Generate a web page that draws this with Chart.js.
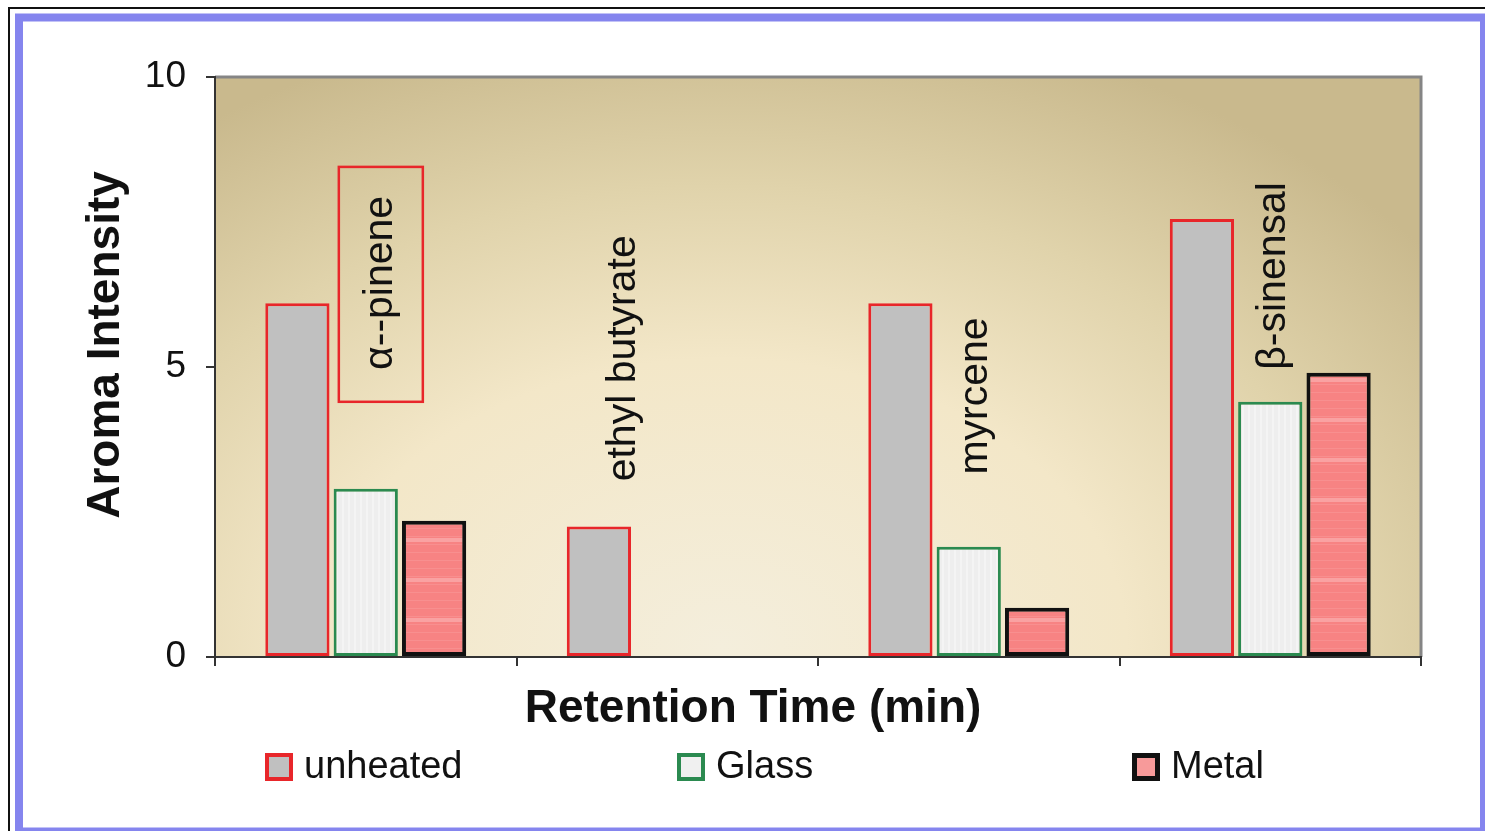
<!DOCTYPE html>
<html>
<head>
<meta charset="utf-8">
<script src="https://cdn.jsdelivr.net/npm/chart.js@4.4.1/dist/chart.umd.min.js"></script>
<style>
  html, body { margin: 0; padding: 0; background: #fff; overflow: hidden; }
  canvas { display: block; }
</style>
</head>
<body>
<canvas id="grafica" width="1485" height="831"></canvas>
<script>
// datos
const categorias = ['α--pinene', 'ethyl butyrate', 'myrcene', 'β-sinensal'];
const unheated = [6.1, 2.25, 6.1, 7.55];
const glass = [2.9, null, 1.9, 4.4];
const metal = [2.35, null, 0.85, 4.9];
const yTicks = [0, 5, 10];

// etiquetas de compuestos (posición en unidades de los ejes)
const etiquetaX = [0.05, -0.146, 0.023, 0.01];
const etiquetaY = [6.45, 5.15, 4.5, 6.57];
const etiquetaCaja = [[4.4, 8.45], null, null, null];

const FUENTE = '"Liberation Sans", Arial, sans-serif';

// patrones de relleno
function patronGlass() {
  const c = document.createElement('canvas');
  c.width = 6; c.height = 6;
  const g = c.getContext('2d');
  g.fillStyle = '#eeeeee';
  g.fillRect(0, 0, 6, 6);
  g.fillStyle = '#f4f4f4';
  g.fillRect(0, 0, 2, 6);
  return g.createPattern(c, 'repeat');
}

function patronMetal() {
  const c = document.createElement('canvas');
  c.width = 8; c.height = 40;
  const g = c.getContext('2d');
  g.fillStyle = '#f78383';
  g.fillRect(0, 0, 8, 40);
  g.fillStyle = 'rgba(255,200,200,0.18)';
  for (let y = 0; y < 40; y += 8) g.fillRect(0, y, 8, 1);
  g.fillStyle = '#f9a2a2';
  g.fillRect(0, 18, 8, 4);
  return g.createPattern(c, 'repeat');
}

const ctx = document.getElementById('grafica').getContext('2d');

// fondo degradado del área de trazado y marcos
const pluginFondo = {
  id: 'fondo',
  beforeDraw(chart) {
    const { ctx, chartArea: a } = chart;
    ctx.save();
    ctx.fillStyle = '#ffffff';
    ctx.fillRect(0, 0, chart.width, chart.height);

    // marco negro exterior
    ctx.strokeStyle = '#111';
    ctx.lineWidth = 2;
    ctx.strokeRect(9, 8, chart.width + 10, chart.height + 10);
    // marco azul
    ctx.strokeStyle = '#8585ee';
    ctx.lineWidth = 8;
    ctx.strokeRect(19, 17.5, 1465, 814);

    // degradado elíptico
    const cx = a.left + 0.42 * (a.right - a.left);
    const cy = a.bottom - 10;
    const rx = 900, ry = 640;
    ctx.beginPath();
    ctx.rect(a.left, a.top, a.right - a.left, a.bottom - a.top);
    ctx.clip();
    ctx.translate(cx, cy);
    ctx.scale(1, ry / rx);
    const grad = ctx.createRadialGradient(0, 0, 0, 0, 0, rx);
    grad.addColorStop(0, '#f4eedc');
    grad.addColorStop(0.45, '#f3e7c8');
    grad.addColorStop(0.72, '#e0d3ab');
    grad.addColorStop(1, '#c9b98d');
    ctx.fillStyle = grad;
    ctx.fillRect(-2000, -2000, 4000, 4000);
    ctx.restore();

    // borde gris superior y derecho
    ctx.save();
    ctx.strokeStyle = '#858585';
    ctx.lineWidth = 3;
    ctx.beginPath();
    ctx.moveTo(a.left, a.top);
    ctx.lineTo(a.right, a.top);
    ctx.lineTo(a.right, a.bottom);
    ctx.stroke();
    ctx.restore();
  }
};

// títulos, etiquetas de compuestos y leyenda
const pluginTextos = {
  id: 'textos',
  afterDraw(chart) {
    const { ctx } = chart;
    const xs = chart.scales.x, ys = chart.scales.y;
    ctx.save();
    ctx.fillStyle = '#111';

    // título eje X
    ctx.font = 'bold 46px ' + FUENTE;
    ctx.textAlign = 'center';
    ctx.textBaseline = 'middle';
    ctx.fillText('Retention Time (min)', 753, 709);

    // título eje Y
    ctx.save();
    ctx.translate(106, 345);
    ctx.rotate(-Math.PI / 2);
    ctx.fillText('Aroma Intensity', 0, 0);
    ctx.restore();

    // nombres de compuestos
    ctx.font = '41px ' + FUENTE;
    categorias.forEach((nombre, i) => {
      const px = xs.getPixelForValue(i + etiquetaX[i]);
      const py = ys.getPixelForValue(etiquetaY[i]);
      ctx.save();
      ctx.translate(px, py);
      ctx.rotate(-Math.PI / 2);
      ctx.fillStyle = '#111';
      ctx.fillText(nombre, 0, 0);
      ctx.restore();
      if (etiquetaCaja[i]) {
        const y1 = ys.getPixelForValue(etiquetaCaja[i][1]);
        const y0 = ys.getPixelForValue(etiquetaCaja[i][0]);
        ctx.strokeStyle = '#e8262a';
        ctx.lineWidth = 2.5;
        ctx.strokeRect(px - 42, y1, 84, y0 - y1);
      }
    });

    // leyenda
    const posLeyenda = [265, 677, 1132];
    ctx.font = '38px ' + FUENTE;
    ctx.textAlign = 'left';
    chart.data.datasets.forEach((ds, i) => {
      const x = posLeyenda[i], y = 753, s = 28;
      const bw = ds.borderWidth + 1;
      ctx.fillStyle = ds.borderColor;
      ctx.fillRect(x, y, s, s);
      ctx.fillStyle = ds.legendFill;
      ctx.fillRect(x + bw, y + bw, s - 2 * bw, s - 2 * bw);
      ctx.fillStyle = '#111';
      ctx.fillText(ds.label, x + 39, y + s / 2 + 1);
    });
    ctx.restore();
  }
};

new Chart(ctx, {
  type: 'bar',
  data: {
    labels: categorias,
    datasets: [
      {
        label: 'unheated',
        data: unheated,
        backgroundColor: '#c0c0c0',
        legendFill: '#c0c0c0',
        borderColor: '#e8262a',
        borderWidth: 3,
        borderSkipped: false
      },
      {
        label: 'Glass',
        data: glass,
        backgroundColor: patronGlass(),
        legendFill: '#f0f0f0',
        borderColor: '#2b8a50',
        borderWidth: 3,
        borderSkipped: false
      },
      {
        label: 'Metal',
        data: metal,
        backgroundColor: patronMetal(),
        legendFill: '#f79a9a',
        borderColor: '#111111',
        borderWidth: 4,
        borderSkipped: false
      }
    ]
  },
  options: {
    responsive: false,
    animation: false,
    devicePixelRatio: 1,
    layout: { padding: { left: 95, top: 77, right: 64, bottom: 164 } },
    categoryPercentage: 0.68,
    barPercentage: 0.94,
    plugins: {
      legend: { display: false },
      tooltip: { enabled: false }
    },
    scales: {
      x: {
        afterFit: s => { s.height = 10; },
        grid: {
          offset: true,
          drawOnChartArea: false,
          drawTicks: true,
          tickLength: 9,
          tickColor: '#333',
          lineWidth: 2
        },
        border: { display: true, color: '#333', width: 2 },
        ticks: { display: false }
      },
      y: {
        min: 0,
        max: 10,
        afterFit: s => { s.width = 120; },
        afterBuildTicks: s => { s.ticks = yTicks.map(v => ({ value: v })); },
        grid: {
          drawOnChartArea: false,
          drawTicks: true,
          tickLength: 9,
          tickColor: '#333',
          lineWidth: 2
        },
        border: { display: true, color: '#333', width: 2 },
        ticks: {
          padding: 20,
          color: '#111',
          font: { family: FUENTE, size: 37 }
        }
      }
    }
  },
  plugins: [pluginFondo, pluginTextos]
});
</script>
</body>
</html>
